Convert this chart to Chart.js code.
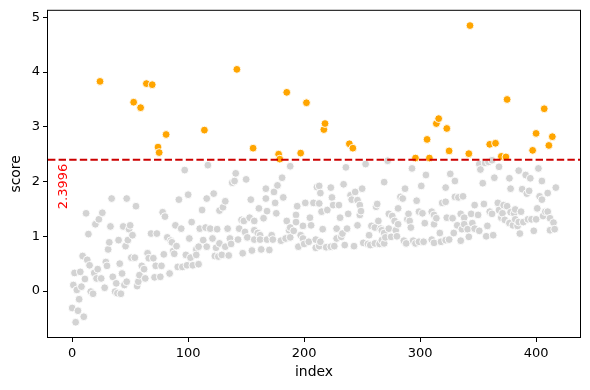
<!DOCTYPE html>
<html>
<head>
<meta charset="utf-8">
<script src="https://cdn.jsdelivr.net/npm/chart.js@4.4.1/dist/chart.umd.min.js"></script>
<style>
  html, body { margin: 0; padding: 0; background: #fff; }
  #wrap { width: 590px; height: 390px; }
</style>
</head>
<body>
<div id="wrap"><canvas id="scoreChart" width="590" height="390"></canvas></div>
<script>
// Valeurs (points cachés derrière d'autres non repris)
const threshold = 2.3996;
const xTicks = [0, 100, 200, 300, 400];
const yTicks = [0, 1, 2, 3, 4, 5];

const idx = [
    0, 1, 2, 3, 4, 5, 6, 7, 8, 9,
    10, 11, 12, 13, 14, 15, 16, 18, 19, 20,
    21, 22, 23, 24, 25, 26, 28, 29, 30, 31,
    32, 33, 34, 35, 37, 38, 39, 40, 41, 42,
    43, 44, 45, 46, 47, 47, 48, 49, 50, 51,
    52, 53, 54, 55, 56, 57, 58, 59, 60, 62,
    63, 64, 65, 66, 68, 69, 70, 71, 72, 73,
    74, 75, 76, 77, 78, 79, 80, 81, 82, 84,
    85, 86, 87, 88, 89, 90, 91, 92, 94, 95,
    97, 98, 99, 100, 101, 102, 103, 104, 107, 107,
    109, 109, 110, 112, 113, 114, 115, 116, 116, 117,
    119, 121, 122, 123, 124, 125, 126, 127, 127, 129,
    130, 132, 132, 134, 135, 136, 137, 138, 140, 141,
    142, 143, 144, 146, 147, 148, 149, 150, 151, 153,
    154, 155, 156, 157, 157, 157, 160, 161, 162, 162,
    163, 165, 167, 167, 168, 168, 170, 172, 173, 174,
    175, 176, 177, 178, 179, 180, 181, 182, 184, 185,
    185, 187, 188, 188, 188, 191, 193, 193, 194, 195,
    197, 197, 199, 199, 200, 201, 202, 204, 205, 206,
    208, 210, 210, 211, 213, 213, 213, 214, 214, 215,
    216, 217, 218, 219, 220, 223, 223, 224, 225, 226,
    228, 228, 230, 231, 232, 233, 234, 235, 236, 237,
    238, 239, 240, 241, 242, 243, 244, 246, 246, 248,
    248, 249, 250, 251, 253, 255, 256, 257, 258, 261,
    261, 262, 263, 264, 265, 266, 267, 267, 269, 269,
    269, 270, 272, 273, 273, 275, 276, 278, 279, 280,
    281, 281, 283, 285, 286, 287, 288, 289, 290, 291,
    292, 293, 294, 296, 296, 297, 299, 299, 301, 302,
    303, 304, 305, 306, 308, 310, 310, 312, 312, 312,
    314, 314, 316, 317, 318, 319, 322, 322, 322, 323,
    323, 325, 325, 326, 328, 329, 330, 330, 332, 333,
    335, 335, 336, 337, 338, 338, 341, 342, 342, 343,
    344, 345, 347, 347, 350, 351, 351, 352, 354, 355,
    356, 357, 358, 359, 360, 360, 362, 362, 363, 364,
    365, 367, 368, 368, 370, 370, 371, 372, 373, 374,
    375, 375, 377, 377, 377, 378, 378, 380, 381, 382,
    382, 384, 385, 385, 386, 387, 388, 389, 391, 392,
    393, 394, 395, 396, 397, 398, 400, 400, 401, 402,
    403, 405, 405, 406, 407, 408, 410, 410, 411, 412,
    412, 414, 415, 416, 417
];

const score = [
    -0.31, 0.11, 0.33, -0.57, 0.02, -0.36, -0.15, 0.35, 0.08, 0.64,
    -0.47, 0.22, 1.42, 0.57, 1.04, 0.47, -0.01, -0.05, 0.33, 1.22,
    0.23, 0.40, 1.31, 3.83, 0.23, 1.43, 0.06, 0.53, 0.46, 0.76,
    0.89, 1.18, 1.69, 0.26, -0.01, 0.14, -0.04, 0.93, 0.50, -0.05,
    0.32, 1.18, 0.11, 0.82, 0.17, 1.69, 0.93, 1.13, 1.20, 0.61,
    1.02, 3.45, 0.61, 1.55, 0.09, 0.17, 0.29, 3.35, 0.46, 0.40,
    0.23, 3.79, 0.69, 0.60, 1.05, 3.77, 0.60, 0.25, 0.46, 1.05,
    2.63, 2.53, 0.26, 0.46, 1.44, 0.67, 1.36, 2.86, 0.98, 0.32,
    0.92, 0.89, 0.73, 0.68, 1.20, 0.82, 0.44, 1.67, 1.14, 0.44,
    2.21, 0.66, 0.47, 1.76, 0.96, 0.61, 1.26, 0.47, 0.76, 0.66,
    0.81, 0.49, 1.14, 1.48, 0.93, 2.94, 1.16, 1.69, 0.81, 2.30,
    1.14, 0.96, 1.78, 0.64, 0.79, 1.13, 0.63, 1.47, 0.87, 0.66,
    1.53, 1.64, 0.81, 1.14, 0.65, 0.96, 0.86, 1.98, 2.01, 2.15,
    4.05, 0.94, 1.14, 1.30, 0.69, 1.28, 1.08, 2.04, 0.98, 1.34,
    1.67, 0.74, 2.61, 0.94, 1.28, 1.11, 1.06, 1.51, 1.02, 0.94,
    0.76, 1.33, 1.87, 1.69, 1.46, 0.94, 0.75, 1.02, 0.94, 1.81,
    1.61, 1.42, 1.93, 2.50, 2.41, 0.92, 2.07, 1.71, 0.96, 3.63,
    1.28, 1.11, 2.28, 1.16, 0.98, 1.10, 1.39, 1.26, 1.55, 0.81,
    2.52, 1.02, 1.19, 0.96, 0.86, 1.61, 3.44, 0.90, 1.34, 1.20,
    1.61, 0.94, 0.79, 1.90, 1.60, 1.92, 0.82, 1.79, 0.90, 1.45,
    1.13, 2.95, 3.06, 0.80, 1.48, 1.89, 0.81, 1.71, 1.57, 0.82,
    1.14, 0.96, 1.57, 1.34, 0.99, 1.05, 1.95, 0.84, 2.26, 1.14,
    1.41, 2.69, 1.75, 1.67, 2.61, 0.82, 1.81, 1.66, 1.20, 1.57,
    1.39, 1.46, 1.87, 0.88, 2.32, 0.86, 1.02, 0.84, 1.19, 1.16,
    0.87, 1.54, 1.59, 1.28, 0.86, 1.14, 1.11, 0.93, 1.99, 1.06,
    0.87, 0.98, 2.38, 1.41, 1.14, 0.99, 1.37, 1.28, 1.11, 1.00,
    1.51, 1.22, 1.72, 1.69, 0.92, 1.87, 0.87, 1.31, 1.41, 1.28,
    1.16, 2.24, 0.92, 2.43, 0.87, 1.65, 1.45, 0.90, 1.92, 1.42,
    0.90, 1.24, 2.12, 2.77, 2.43, 1.45, 0.94, 1.39, 1.22, 0.88,
    3.06, 1.33, 3.15, 1.06, 0.90, 1.61, 1.89, 0.93, 1.63, 2.97,
    1.34, 2.56, 0.94, 2.14, 1.33, 1.06, 2.01, 1.72, 1.20, 1.71,
    1.41, 0.92, 1.13, 1.73, 1.34, 1.22, 1.13, 2.51, 0.99, 4.85,
    1.41, 1.24, 1.57, 1.14, 1.39, 2.32, 1.10, 2.22, 1.97, 1.59,
    2.34, 1.00, 1.19, 2.36, 2.68, 1.45, 2.39, 1.41, 1.02, 2.07,
    2.70, 1.61, 2.27, 1.48, 2.46, 1.34, 1.42, 1.57, 1.30, 2.45,
    3.50, 1.55, 1.25, 2.06, 1.24, 1.87, 1.44, 1.20, 1.42, 1.31,
    1.49, 1.19, 1.26, 2.20, 1.05, 1.45, 1.86, 1.26, 2.12, 1.78,
    1.31, 1.83, 2.06, 1.31, 2.57, 1.10, 1.31, 2.88, 1.51, 2.24,
    1.73, 2.01, 1.67, 1.37, 3.33, 1.45, 1.45, 1.79, 2.66, 1.33,
    1.11, 2.82, 1.25, 1.13, 1.89
];

const FONT = '"DejaVu Sans", sans-serif';
const X_MIN = -20.85, X_MAX = 437.85;

// Cadre complet + étiquette verticale du seuil
const framePlugin = {
    id: 'frame',
    afterDraw(chart) {
        const ctx = chart.ctx;
        const a = chart.chartArea;
        const xs = chart.scales.x, ys = chart.scales.y;

        ctx.save();
        ctx.translate(xs.getPixelForValue(-7), ys.getPixelForValue(threshold) + 4);
        ctx.rotate(-Math.PI / 2);
        ctx.fillStyle = '#ff0000';
        ctx.font = '13px ' + FONT;
        ctx.textAlign = 'right';
        ctx.textBaseline = 'middle';
        ctx.fillText(threshold.toString(), 0, 0);
        ctx.restore();

        ctx.save();
        ctx.strokeStyle = '#000';
        ctx.lineWidth = 1;
        ctx.strokeRect(a.left - 0.5, a.top - 0.5, a.right - a.left + 1, a.bottom - a.top + 1);
        ctx.restore();
    }
};

const points = idx.map((x, i) => ({ x: x, y: score[i] }));

new Chart(document.getElementById('scoreChart').getContext('2d'), {
    type: 'scatter',
    data: {
        datasets: [
            {
                type: 'line',
                label: 'seuil',
                data: [{ x: X_MIN, y: threshold }, { x: X_MAX, y: threshold }],
                borderColor: '#cc0000',
                borderWidth: 2,
                borderDash: [7.4, 3.2],
                pointRadius: 0,
                fill: false,
                order: 0
            },
            {
                label: 'score',
                data: points,
                pointRadius: 3.9,
                pointBorderWidth: 0.9,
                pointBorderColor: '#ffffff',
                pointBackgroundColor: c => (c.raw && c.raw.y > threshold) ? '#ffa500' : '#d3d3d3',
                order: 1
            }
        ]
    },
    options: {
        responsive: false,
        animation: false,
        events: [],
        layout: { padding: { top: 10, right: 10, left: 0, bottom: 0 } },
        plugins: {
            legend: { display: false },
            tooltip: { enabled: false }
        },
        scales: {
            x: {
                type: 'linear',
                min: X_MIN,
                max: X_MAX,
                afterBuildTicks: s => { s.ticks = xTicks.map(v => ({ value: v })); },
                afterFit: s => { s.height = 53; },
                grid: { display: true, drawOnChartArea: false, tickLength: 5, tickColor: '#000', tickWidth: 1 },
                border: { display: false },
                ticks: {
                    color: '#000',
                    font: { family: FONT, size: 13 },
                    padding: 4,
                    maxRotation: 0,
                    autoSkip: false,
                    callback: v => String(v)
                },
                title: {
                    display: true,
                    text: 'index',
                    color: '#000',
                    font: { family: FONT, size: 13.9 },
                    padding: { top: 0, bottom: 9 }
                }
            },
            y: {
                type: 'linear',
                min: -0.84,
                max: 5.12,
                afterBuildTicks: s => { s.ticks = yTicks.map(v => ({ value: v })); },
                afterFit: s => { s.width = 48; },
                grid: { display: true, drawOnChartArea: false, tickLength: 5, tickColor: '#000', tickWidth: 1 },
                border: { display: false },
                ticks: {
                    color: '#000',
                    font: { family: FONT, size: 13 },
                    padding: 3,
                    autoSkip: false,
                    callback: v => String(v)
                },
                title: {
                    display: true,
                    text: 'score',
                    color: '#000',
                    font: { family: FONT, size: 13.9 },
                    padding: { top: 8, bottom: 0 }
                }
            }
        }
    },
    plugins: [framePlugin]
});
</script>
</body>
</html>
